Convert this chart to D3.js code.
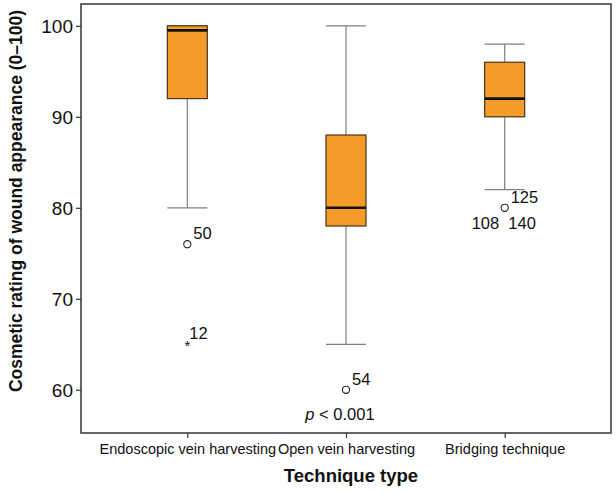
<!DOCTYPE html>
<html><head><meta charset="utf-8">
<script src="https://cdn.jsdelivr.net/npm/d3@7"></script>
<style>body{margin:0;background:#fff}svg{display:block}text{font-family:"Liberation Sans",Arial,sans-serif}</style>
</head><body>
<script>
const categories = ["Endoscopic vein harvesting", "Open vein harvesting", "Bridging technique"];
const whiskerLow = [80, 65, 82];
const q1 = [92, 78, 90];
const median = [99.5, 80, 92];
const q3 = [100, 88, 96];
const whiskerHigh = [100, 100, 98];
const outlierCats = [0, 0, 1, 2];
const outlierValues = [76, 65, 60, 80];
const outlierKinds = ["circle", "star", "circle", "circle"];
const outlierLabels = ["50", "12", "54", "125"];
const outlierLowerLabels = ["", "", "", "108 140"];
const yTicks = [60, 70, 80, 90, 100];
const pText = "< 0.001";

const W = 616, H = 493;
const L = 81, R = 611, T = 4, B = 433;
const svg = d3.select("body").append("svg").attr("width", W).attr("height", H);

const y = d3.scaleLinear().domain([55.25, 102.4]).range([B, T]);
const x = d3.scalePoint().domain(categories).range([L, R]).padding(0.67);
const bw = 40;

// frame
svg.append("rect").attr("x", L).attr("y", T).attr("width", R - L).attr("height", B - T)
  .attr("fill", "none").attr("stroke", "#333").attr("stroke-width", 1.5);

// y axis
const yAx = svg.append("g").attr("transform", `translate(${L},0)`)
  .call(d3.axisLeft(y).tickValues(yTicks).tickSize(5).tickPadding(3));
yAx.select(".domain").remove();
yAx.selectAll("line").attr("stroke", "#333").attr("stroke-width", 1.2);
yAx.selectAll("text").attr("font-size", 19).attr("fill", "#111").attr("dy", "0.35em");

// x axis
const xAx = svg.append("g").attr("transform", `translate(0,${B})`)
  .call(d3.axisBottom(x).tickSize(5).tickPadding(6));
xAx.select(".domain").remove();
xAx.selectAll("line").attr("stroke", "#333").attr("stroke-width", 1.2);
xAx.selectAll("text").attr("font-size", 14.5).attr("fill", "#111");

// boxes and whiskers
const g = svg.append("g");
categories.forEach((c, i) => {
  const cx = x(c);
  g.append("line").attr("x1", cx).attr("x2", cx).attr("y1", y(whiskerHigh[i])).attr("y2", y(q3[i]))
    .attr("stroke", "#808080").attr("stroke-width", 1.2);
  g.append("line").attr("x1", cx).attr("x2", cx).attr("y1", y(q1[i])).attr("y2", y(whiskerLow[i]))
    .attr("stroke", "#808080").attr("stroke-width", 1.2);
  [whiskerHigh[i], whiskerLow[i]].forEach(v => {
    g.append("line").attr("x1", cx - bw / 2).attr("x2", cx + bw / 2).attr("y1", y(v)).attr("y2", y(v))
      .attr("stroke", "#808080").attr("stroke-width", 1.2);
  });
  g.append("rect").attr("x", cx - bw / 2).attr("width", bw).attr("y", y(q3[i])).attr("height", y(q1[i]) - y(q3[i]))
    .attr("fill", "#F49B29").attr("stroke", "#4a3418").attr("stroke-width", 1.2);
  g.append("line").attr("x1", cx - bw / 2).attr("x2", cx + bw / 2).attr("y1", y(median[i])).attr("y2", y(median[i]))
    .attr("stroke", "#111").attr("stroke-width", 2.6);
});

// outliers
outlierValues.forEach((v, k) => {
  const cx = x(categories[outlierCats[k]]), cy = y(v);
  if (outlierKinds[k] === "circle") {
    svg.append("circle").attr("cx", cx).attr("cy", cy).attr("r", 3.6)
      .attr("fill", "#fff").attr("stroke", "#222").attr("stroke-width", 1.1);
    svg.append("text").attr("x", cx + 6).attr("y", cy - 5).attr("font-size", 16.5).attr("fill", "#111").text(outlierLabels[k]);
  } else {
    svg.append("text").attr("x", cx).attr("y", cy + 7).attr("text-anchor", "middle").attr("font-size", 15).attr("fill", "#111").text("*");
    svg.append("text").attr("x", cx + 2).attr("y", cy - 5).attr("font-size", 16.5).attr("fill", "#111").text(outlierLabels[k]);
  }
  if (outlierLowerLabels[k]) {
    svg.append("text").attr("x", cx - 33).attr("y", cy + 21).attr("font-size", 16.5).attr("fill", "#111")
      .attr("xml:space", "preserve").text(outlierLowerLabels[k].replace(" ", "  "));
  }
});

// p value
const pt = svg.append("text").attr("x", x(categories[1]) - 6).attr("y", 420).attr("text-anchor", "middle")
  .attr("font-size", 16.5).attr("fill", "#111");
pt.append("tspan").attr("font-style", "italic").text("p");
pt.append("tspan").text(" " + pText);

// axis titles
svg.append("text").attr("x", 351).attr("y", 482).attr("text-anchor", "middle").attr("font-size", 18.5)
  .attr("font-weight", "bold").attr("fill", "#111").text("Technique type");
svg.append("text").attr("transform", "translate(22,201) rotate(-90)").attr("text-anchor", "middle")
  .attr("font-size", 17.5).attr("font-weight", "bold").attr("fill", "#111").text("Cosmetic rating of wound appearance (0–100)");
</script>
</body></html>
